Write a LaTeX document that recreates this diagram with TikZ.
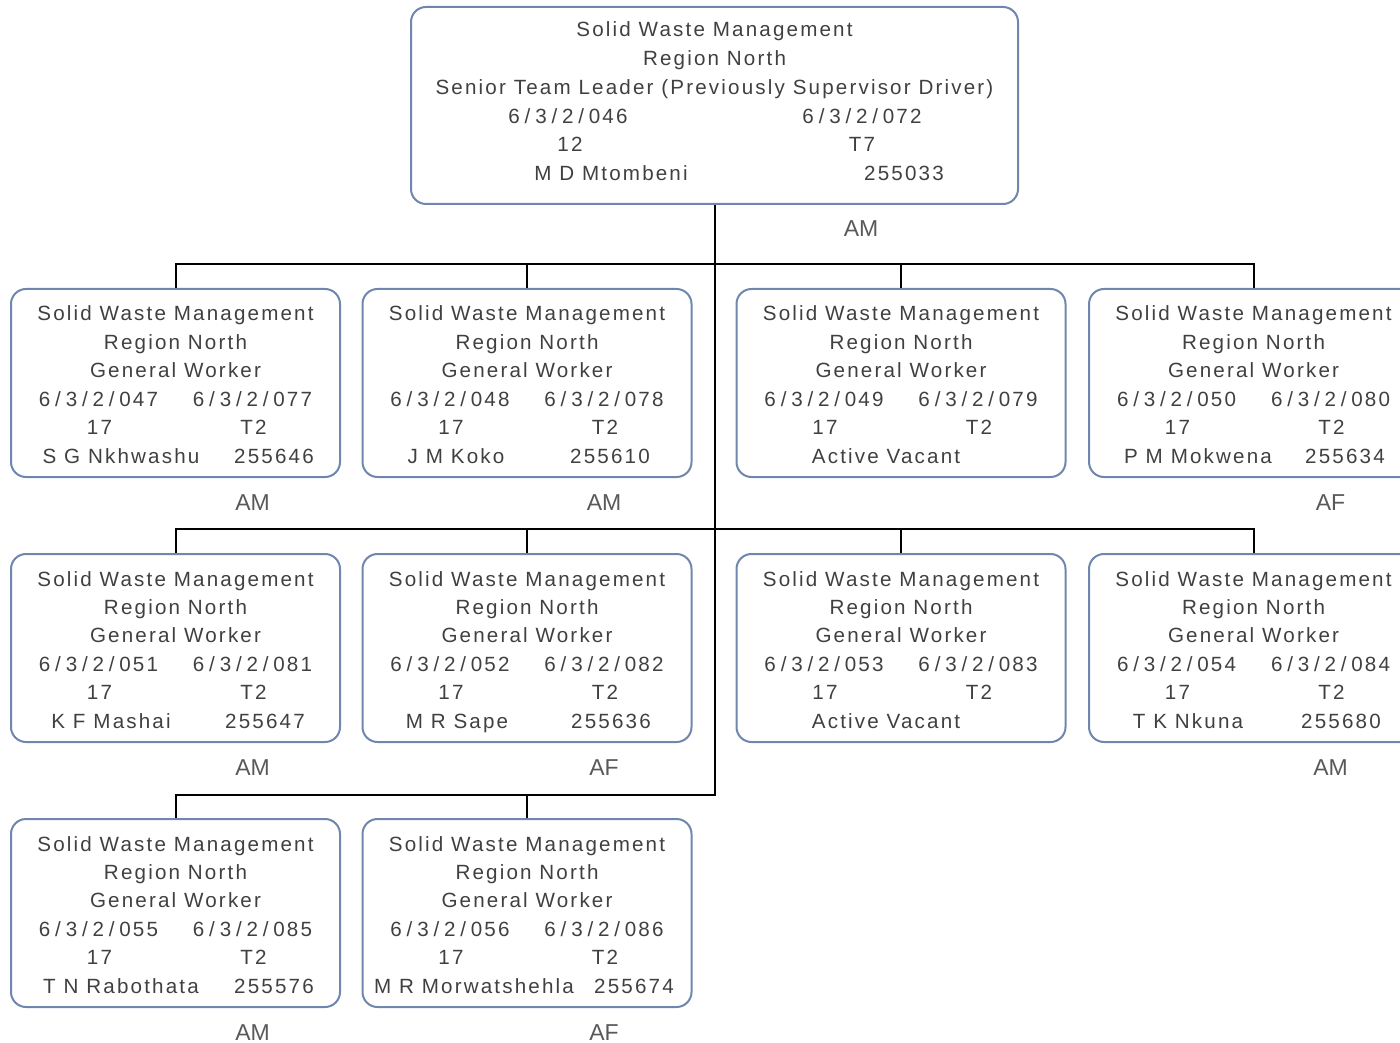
\documentclass[tikz,border=0pt]{standalone}
\usepackage{fontspec}
\setmainfont[LetterSpace=10.5]{Liberation Sans}
\newfontfamily\tagfont{Liberation Sans}
\usepackage{tikz}

\definecolor{boxline}{HTML}{6F86AE}
\definecolor{boxtext}{HTML}{404040}
\definecolor{tagtext}{HTML}{595959}
% position number, slashes set a little wider
\newcommand{\posno}[1]{6\kern2.4pt/\kern2.4pt3\kern2.4pt/\kern2.4pt2\kern2.4pt/\kern2.4pt#1}

\begin{document}
\begin{tikzpicture}[x=0.5pt, y=-0.5pt,
    staffbox/.style={draw=boxline, line width=1pt, rounded corners=7.5pt,
      minimum width=164.5pt, minimum height=94pt, inner sep=0pt},
    topbox/.style={staffbox, minimum width=303.5pt, minimum height=98.5pt},
    line/.style={anchor=base, inner sep=0pt, text=boxtext,
      font=\fontsize{10.3}{12}\selectfont},
    tag/.style={anchor=base, inner sep=0pt, text=tagtext,
      font=\tagfont\fontsize{11.5}{12}\selectfont},
    link/.style={draw=black, line width=1pt}]
    \useasboundingbox (0,0) rectangle (1400,1042);

    % team leader
    \node[topbox] (top) at (714.5,105.5) {};
    \node[line] (top-1) at (714.5,37) {Solid Waste Management};
    \node[line] (top-2) at (714.5,66) {Region North};
    \node[line] (top-3) at (714.5,95) {Senior Team Leader (Previously Supervisor Driver)};
    \node[line] (top-4a) at (568,124) {\posno{046}};
    \node[line] (top-4b) at (862,124) {\posno{072}};
    \node[line] (top-5a) at (570,152) {12};
    \node[line] (top-5b) at (862,152) {T7};
    \node[line] (top-6a) at (611,181) {M D Mtombeni};
    \node[line] (top-6b) at (904,181) {255033};
    \node[tag] (top-tag) at (861,237) {AM};

    % general workers
    \foreach \cx/\ty/\pa/\pb/\who/\wx/\num/\nx/\tg [count=\i] in {
      175.5/289/047/077/S G Nkhwashu/121/255646/274/AM,
      527/289/048/078/J M Koko/456/255610/610/AM,
      901/289/049/079/Active Vacant/886/{}/901/{},
      1253.5/289/050/080/P M Mokwena/1198/255634/1345/AF,
      175.5/554/051/081/K F Mashai/111/255647/265/AM,
      527/554/052/082/M R Sape/457/255636/611/AF,
      901/554/053/083/Active Vacant/886/{}/901/{},
      1253.5/554/054/084/T K Nkuna/1188/255680/1341/AM,
      175.5/819/055/085/T N Rabothata/121/255576/274/AM,
      527/819/056/086/M R Morwatshehla/474/255674/634/AF} {
      \node[staffbox] (box\i) at (\cx,{\ty+94}) {};
      \node[line] (box\i-1) at (\cx,{\ty+32}) {Solid Waste Management};
      \node[line] (box\i-2) at (\cx,{\ty+60.4}) {Region North};
      \node[line] (box\i-3) at (\cx,{\ty+88.8}) {General Worker};
      \node[line] (box\i-4a) at ({\cx-77},{\ty+117.2}) {\posno{\pa}};
      \node[line] (box\i-4b) at ({\cx+77},{\ty+117.2}) {\posno{\pb}};
      \node[line] (box\i-5a) at ({\cx-76},{\ty+145.6}) {17};
      \node[line] (box\i-5b) at ({\cx+78},{\ty+145.6}) {T2};
      \node[line] (box\i-6a) at (\wx,{\ty+174}) {\who};
      \node[line] (box\i-6b) at (\nx,{\ty+174}) {\num};
      \node[tag] (box\i-tag) at ({\cx+77},{\ty+221}) {\tg};
    }

    % reporting lines
    \coordinate (trunk) at (714.5,795);
    \draw[link] (top.south) -- (trunk) -| (box9.north);
    \draw[link] (box10.north) -- ++(0,-24);
    \draw[link] (box1.north) -- ++(0,-24) -| (box4.north);
    \draw[link] (box2.north) -- ++(0,-24);
    \draw[link] (box3.north) -- ++(0,-24);
    \draw[link] (box5.north) -- ++(0,-24) -| (box8.north);
    \draw[link] (box6.north) -- ++(0,-24);
    \draw[link] (box7.north) -- ++(0,-24);
\end{tikzpicture}
\end{document}
